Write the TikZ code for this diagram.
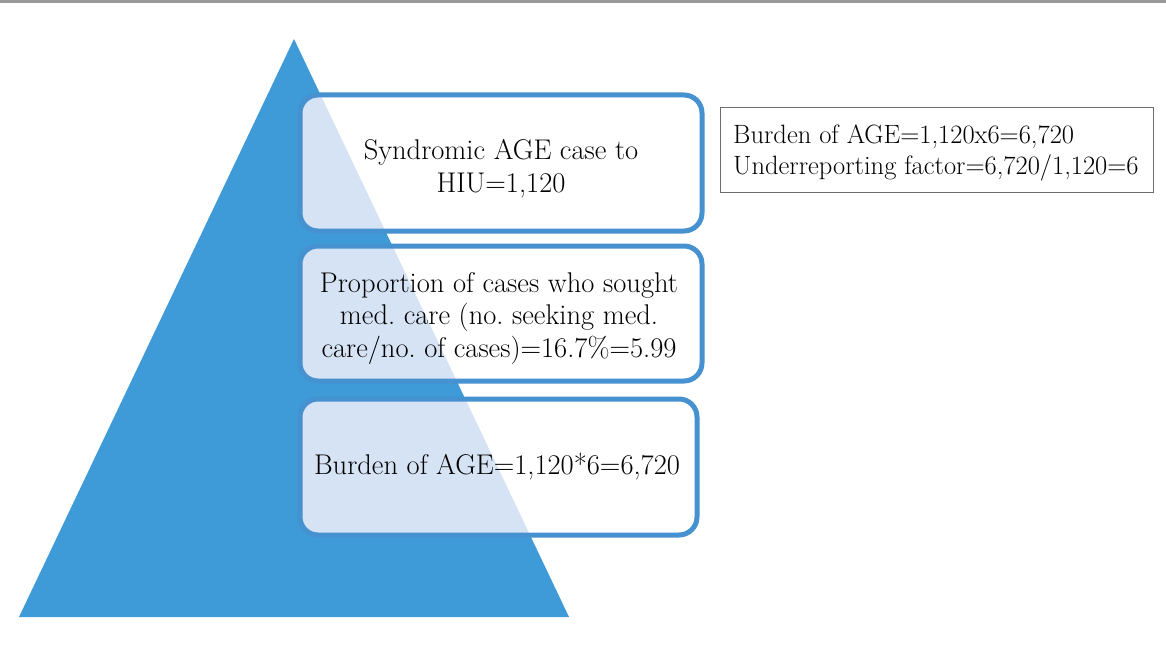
\documentclass[tikz,border=0pt]{standalone}
\usepackage{fontspec}
\setmainfont{Latin Modern Roman}
\frenchspacing
\definecolor{triblue}{HTML}{3E9BD8}
\definecolor{boxblue}{HTML}{4691D0}
\definecolor{tintfill}{HTML}{D6E3F4}
\pgfdeclarelayer{bg}
\pgfdeclarelayer{tint}
\pgfsetlayers{bg,tint,main}
\tikzset{
  stagebox/.style={draw=boxblue, line width=5pt, rounded corners=18pt, outer sep=0pt, inner sep=0pt},
  stagetext/.style={align=center, inner sep=0pt, font=\fontsize{28.5}{32.5}\selectfont},
  infobox/.style={draw=gray!85!black, line width=0.9pt, outer sep=0pt, inner sep=0pt,
    minimum width=433pt, minimum height=85pt},
  infotext/.style={align=left, inner sep=0pt, anchor=west, font=\fontsize{26.5}{31}\selectfont},
}
\begin{document}
\begin{tikzpicture}[x=1pt,y=-1pt]
\useasboundingbox (0,0) rectangle (1166,655);
\coordinate (tl) at (0,1.5);
\coordinate (tr) at (1166,1.5);
\draw[gray!80, line width=2.5pt] (tl) -- (tr);

\coordinate (apex) at (294,39);
\coordinate (bl) at (19,617);
\coordinate (br) at (569,617);

\node[stagebox, minimum width=402pt, minimum height=136pt] (b1) at (501,163) {};
\node[stagebox, minimum width=402pt, minimum height=135pt] (b2) at (501,313.5) {};
\node[stagebox, minimum width=397pt, minimum height=136pt] (b3) at (498.5,467) {};

\node[stagetext] (t1) at (501,168.5) {Syndromic AGE case to\\HIU=1,120};
\node[stagetext] (t2) at (499,318.5)
  {Proportion of cases who sought\\med. care (no. seeking med.\\care/no. of cases)=16.7\%=5.99};
\node[stagetext] (t3) at (497,467) {Burden of AGE=1,120*6=6,720};

\node[infobox] (info) at (937,149.75) {};
\node[infotext] (infot) at (733,153)
  {Burden of AGE=1,120x6=6,720\\Underreporting factor=6,720/1,120=6};

\begin{pgfonlayer}{bg}
  \fill[triblue] (apex) -- (br) -- (bl) -- cycle;
\end{pgfonlayer}
\begin{pgfonlayer}{tint}
  \foreach \b in {b1,b2,b3} {
    \fill[white, rounded corners=18pt] (\b.south west) rectangle (\b.north east);
  }
  \begin{scope}
    \clip (apex) -- (br) -- (bl) -- cycle;
    \foreach \b in {b1,b2,b3} {
      \fill[tintfill, rounded corners=18pt] (\b.south west) rectangle (\b.north east);
    }
  \end{scope}
\end{pgfonlayer}
\end{tikzpicture}
\end{document}
